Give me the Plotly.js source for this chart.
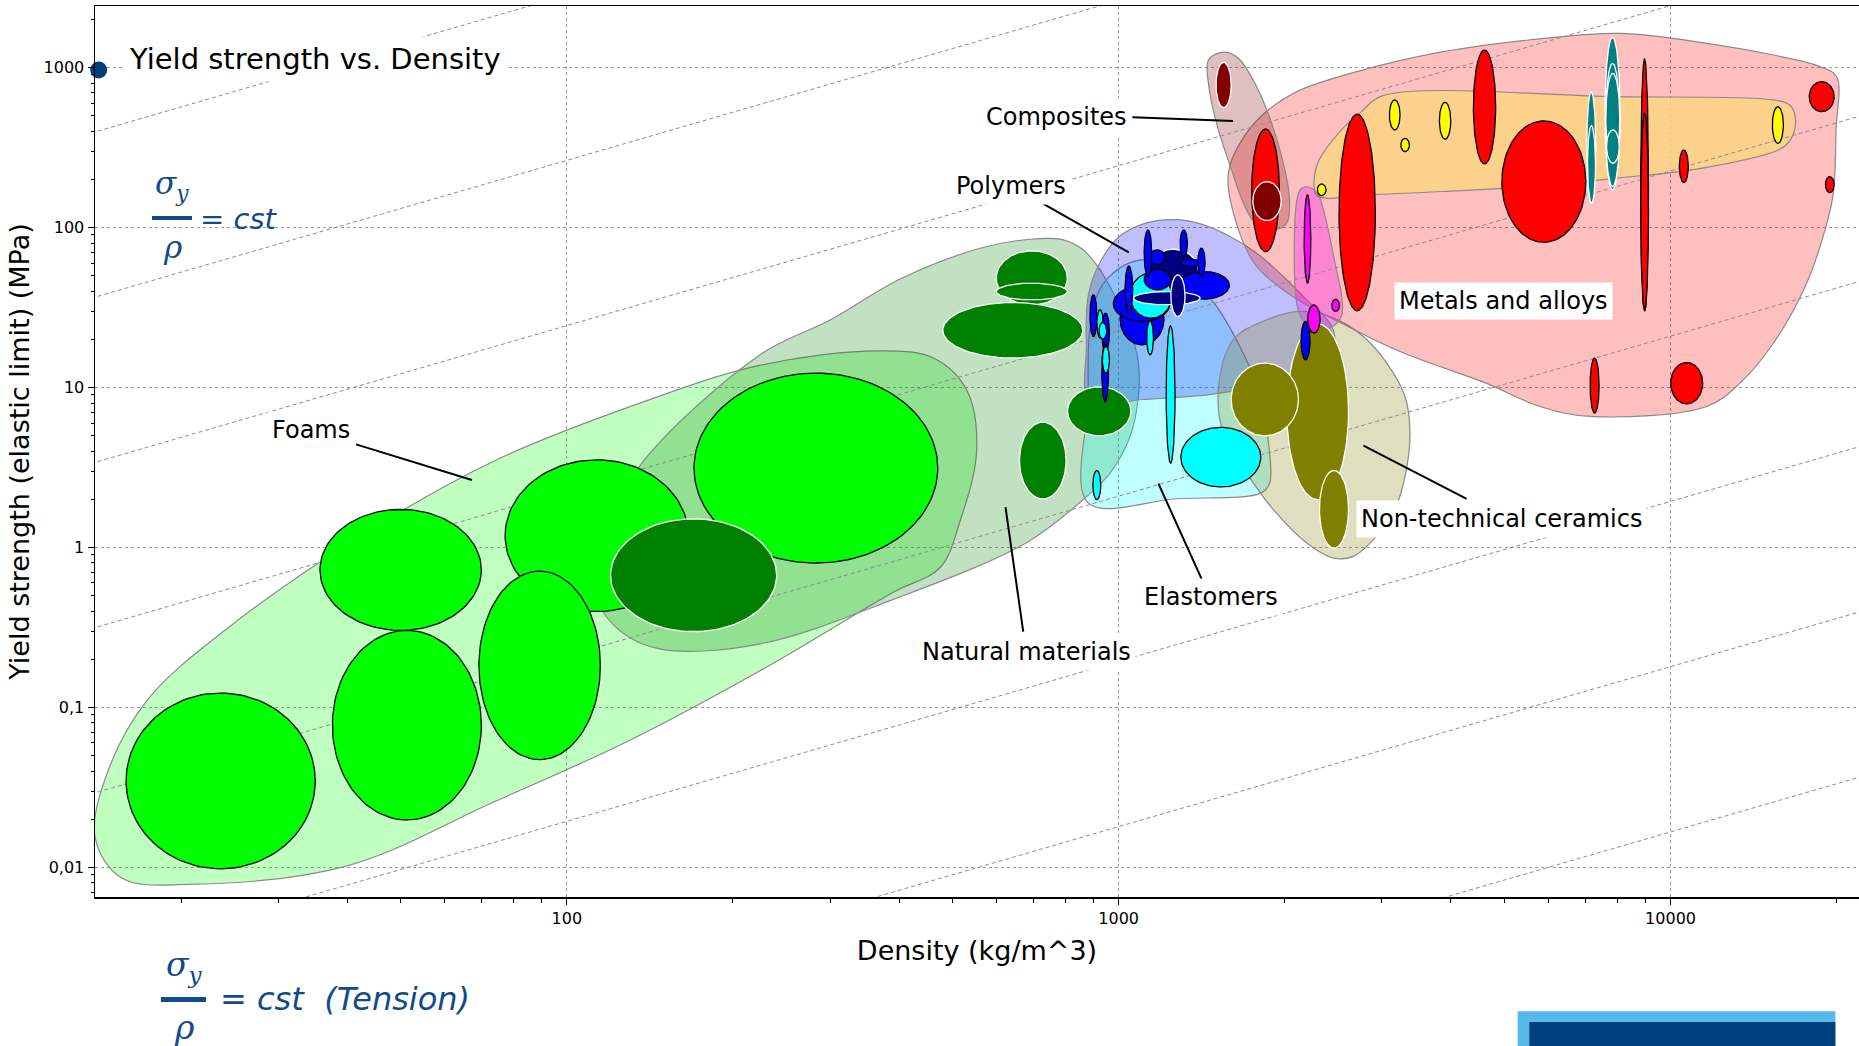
<!DOCTYPE html>
<html><head><meta charset="utf-8">
<script src="https://cdn.plot.ly/plotly-3.0.1.min.js"></script>
<style>html,body{margin:0;padding:0;background:#fff;}#chart{width:1859px;height:1046px;}</style>
</head><body><div id="chart"></div>
<script>
// ---------------- DATA (density kg/m^3 ranges, yield strength MPa ranges) ----------------
const foamRho = [[15.9,35.0],[35.7,70.0],[37.6,70.0],[77.3,166],[69.3,115],[170,470]];
const foamSig = [[0.0098,0.123],[0.303,1.73],[0.0198,0.303],[0.398,3.53],[0.0472,0.711],[0.80,12.3]];

const naturalRho = [[120,240],[600,807],[600,807],[480,861],[661,803],[808,1052]];
const naturalSig = [[0.298,1.51],[32.8,71.5],[35.3,44.9],[15.3,34.0],[2.01,6.08],[5.0,10.1]];

const ceramicRho = [[2017,2609],[1599,2117],[2311,2609]];
const ceramicSig = [[1.99,25.0],[4.99,14.2],[0.99,3.03]];

// polymers (P = blue, PD = dark blue) and elastomers (E = cyan), in drawing order
const polyKind = ['PD','P','P','P','E','P','PD','PD','P','P','P','P','P','P','E','P','E','P','E','P','E','E','E','E','P'];
const polyRho = [[1132,1395],[1006,1208],[978,1239],[1283,1587],[1049,1248],[1112,1243],[1063,1405],[1243,1319],
  [1137,1213],[1112,1148],[1292,1332],[1292,1408],[1391,1434],[1027,1060],[1124,1156],[887,913],[913,938],
  [932,962],[921,951],[932,958],[934,962],[1219,1265],[898,928],[1296,1809],[2140,2222]];
const polySig = [[38.9,73.2],[18.5,38.9],[25.9,43.2],[35.7,53.1],[27.1,51.9],[40.8,54.9],[32.9,39.8],[27.8,50.6],
  [58.5,72.5],[49.4,96.7],[65.9,96.7],[57.1,63.4],[49.4,74.3],[29.2,57.6],[16.0,26.2],[20.8,38.0],[20.4,30.6],
  [16.8,29.2],[20.1,25.5],[8.15,18.9],[12.3,18.1],[3.37,24.3],[1.99,3.03],[2.39,5.63],[14.9,25.9]];

const glassRho = [[2201,2317],[2168,2229],[2433,2512]];
const glassSig = [[21.9,32.8],[44.9,160],[29.9,35.6]];

const metalRho = [[1742,1955],[2508,2918],[4393,4821],[4947,7021],[8831,9120],[8831,9120],[10373,10770],
  [17836,19789],[19081,19789],[7149,7423],[10005,11435]];
const metalSig = [[70.7,413],[30.2,511],[250,1287],[80.9,464],[30.2,1130],[30.2,518],[190.9,305.7],
  [530,817],[165.4,208.2],[6.92,15.27],[7.9,14.33]];

const compositeRho = [[1501,1599],[1750,1970]];
const compositeSig = [[562,1078],[110.6,193.8]];

const tealRho = [[7050,7320],[7072,7311],[7606,8101],[7622,8090],[7632,8090],[7657,8073]];
const tealSig = [[141.9,707.5],[141.9,433.5],[171.7,1545],[180.1,1063],[252.5,921],[252.5,407.7]];

const techCeramicRho = [[3094,3235],[3245,3363],[3812,3997],[2291,2375],[15292,16014]];
const techCeramicSig = [[407.7,628],[298.5,361.3],[356.4,606.7],[158.5,187.3],[336.3,569.6]];

// envelopes (outline vertices)
const foamEnvRho = [15.61,13.97,14.77,17.44,24.34,42.41,73.87,128.7,224.3,369.6,461.6,530.3,552.9,515.8,474.8,390.6,224.3,128.7,73.87,40.1,21.19];
const foamEnvSig = [0.00858,0.01542,0.04074,0.1132,0.3148,1.189,3.475,7.482,13.8,16.94,15.29,9.647,4.05,1.458,0.7495,0.5248,0.1703,0.06129,0.02573,0.01026,0.00786];
const naturalEnvRho = [224.3,299.9,403.5,560.9,690.7,793.6,863.0,925.3,984.7,1048.6,1085.7,1085.7,1048.6,964.5,875.0,680.6,390.6,224.3,147.9,125.2,113.6,115.2,136.1];
const naturalEnvSig = [16.09,26.44,48.03,74.21,84.49,83.75,72.44,54.4,37.06,22.95,14.19,8.785,4.944,2.918,2.086,1.072,0.4738,0.2499,0.2314,0.2989,0.4738,1.129,3.3];
const elastomerEnvRho = [880.3,880.3,886.4,923.8,1004.4,1106.6,1237.1,1363.6,1503.1,1656.9,1800.6,1865.3,1878.2,1813.9,1272.3];
const elastomerEnvSig = [1.902,8.418,23.02,40.93,55.9,63.0,60.05,47.29,32.23,18.11,9.262,4.729,2.537,2.195,2.016];
const polymerEnvRho = [886.4,873.8,880.3,923.8,1004.4,1122.9,1272.3,1422.3,1588.9,1775.9,1984.9,2188.5,2412.6,2463.1,2346.8,2098.9,1800.6,1462.2,1106.6];
const polymerEnvSig = [8.013,18.11,37.19,60.05,88.14,106.9,112.1,104.4,88.14,69.41,49.6,35.44,25.33,19.95,14.95,11.76,10.19,9.04,8.418];
const ceramicEnvRho = [1515.8,1613.2,1854.3,2131.6,2449.5,2775.8,3060.3,3302.4,3371.6,3302.4,3146.0,2893.2,2661.3,2449.5,2191.5,1907.0,1706.0,1547.5];
const ceramicEnvSig = [9.68,19.89,26.49,29.9,27.13,20.86,14.21,8.799,5.185,2.783,1.643,1.119,0.88,0.859,1.067,1.723,2.918,5.185];
const metalEnvRho = [1578.8,1665.4,1822.6,2103.3,2702.6,3870.4,5540.1,8101.7,11629,15356,18659,19999,19949,19721,19050,17644,15356,13356,11629,7147.6,5801.1,4629.5,3234.6,2516.4,2064,1779.6,1652];
const metalEnvSig = [213.3,344.4,505.5,707.5,943.6,1256.9,1487.7,1637.6,1418.7,1198.1,1013.7,877.0,407.7,163.7,96.65,44.86,18.92,10.65,7.612,6.596,7.612,10.65,16.8,25.55,37.19,56.96,95.0];
const techCeramicEnvRho = [2259.4,2300.6,2516.4,2752.3,3010.6,7931.7,15959,16553,16849,16405,15677,11350,7931.7,5540.1,3870.4,2702.6,2384.5,2280.1];
const techCeramicEnvSig = [193.8,258.6,398.1,530.3,667.3,658.3,613.1,569.6,448.6,344.4,305.7,234.6,203.3,180.4,168.0,158.5,152.4,159.8];
const glassEnvRho = [2117,2161.5,2237.4,2300.6,2382.3,2466.5,2536.2,2532.2,2412.6,2218.8,2121.9];
const glassEnvSig = [163.7,178.6,176.2,159.8,106.3,59.84,37.06,27.87,23.59,24.15,29.29];
const compositeEnvRho = [1526.3,1454.1,1459.8,1515.8,1602.1,1682.7,1778.3,1907.0,2015.3,2038.2,1987.7,1893.8,1778.3,1659.6,1580.2];
const compositeEnvSig = [1239.7,1115.3,724.4,407.7,229.1,141.9,103.8,96.65,106.3,156.1,252.1,448.6,759.8,1115.3,1239.7];

// guide lines sigma/rho = C  (MPa per kg/m^3)
const guideC = [1.667e-6,1.799e-5,1.941e-4,2.094e-3,2.259e-2,0.2438,2.630,28.38];

// labels and leader lines
const labelText = ['Foams','Natural materials','Polymers','Composites','Elastomers','Non-technical ceramics','Metals and alloys'];
const labelRho = [34.4,681.5,639.2,771.6,1467,4930,4979];
const labelSig = [5.41,0.223,181.7,488.6,0.489,1.506,34.7];
const leaderRho = [[41.5,67.3],[623.6,671.5],[730.5,1043],[1058.6,1612],[1180.4,1417.9],[2777,4271]];
const leaderSig = [[4.41,2.64],[1.786,0.298],[140.6,69.9],[488.6,464.2],[2.51,0.62],[4.335,2.012]];

const titleMarkerRho = [14.18];
const titleMarkerSig = [966];

const xTickVals = [100,1000,10000];
const xTickText = ['100','1000','10000'];
const yTickVals = [0.01,0.1,1,10,100,1000];
const yTickText = ['0,01','0,1','1','10','100','1000'];

// ---------------- BUILD ----------------
const traces = [];
function envelope(rho, sig, fill){
  traces.push({type:'scatter',mode:'lines',x:rho.concat([rho[0]]),y:sig.concat([sig[0]]),
    fill:'toself',fillcolor:fill,line:{shape:'spline',smoothing:1,color:'#8a8a8a',width:1.2},
    hoverinfo:'skip',showlegend:false});
}
function bubble(rho, sig, fill, edge){
  const lx0=Math.log10(rho[0]),lx1=Math.log10(rho[1]),ly0=Math.log10(sig[0]),ly1=Math.log10(sig[1]);
  const cx=(lx0+lx1)/2,cy=(ly0+ly1)/2,rx=(lx1-lx0)/2,ry=(ly1-ly0)/2;
  const xs=[],ys=[];
  for(let i=0;i<=120;i++){const t=2*Math.PI*i/120;xs.push(Math.pow(10,cx+rx*Math.cos(t)));ys.push(Math.pow(10,cy+ry*Math.sin(t)));}
  traces.push({type:'scatter',mode:'lines',x:xs,y:ys,fill:'toself',fillcolor:fill,
    line:{color:edge,width:1.3},hoverinfo:'skip',showlegend:false});
}

envelope(foamEnvRho,foamEnvSig,'rgba(0,255,0,0.25)');
envelope(naturalEnvRho,naturalEnvSig,'rgba(0,128,0,0.24)');
envelope(elastomerEnvRho,elastomerEnvSig,'rgba(0,255,255,0.25)');
envelope(polymerEnvRho,polymerEnvSig,'rgba(0,0,255,0.25)');
envelope(ceramicEnvRho,ceramicEnvSig,'rgba(128,128,0,0.25)');
envelope(metalEnvRho,metalEnvSig,'rgba(255,0,0,0.25)');
envelope(techCeramicEnvRho,techCeramicEnvSig,'rgba(250,212,130,0.85)');
envelope(glassEnvRho,glassEnvSig,'rgba(255,0,255,0.3)');
envelope(compositeEnvRho,compositeEnvSig,'rgba(128,0,0,0.25)');

guideC.forEach(c=>{
  traces.push({type:'scatter',mode:'lines',x:[5,60000],y:[5*c,60000*c],
    line:{color:'#8c8c8c',width:1,dash:'4px,3px'},hoverinfo:'skip',showlegend:false});
});

foamRho.forEach((r,i)=>bubble(r,foamSig[i],'#00FF00','#000000'));
naturalRho.forEach((r,i)=>bubble(r,naturalSig[i],'#008000','#FFFFFF'));
ceramicRho.forEach((r,i)=>bubble(r,ceramicSig[i],'#808000','#FFFFFF'));
const polyStyle={P:['#0000FF','#000000'],PD:['#000080','#FFFFFF'],E:['#00FFFF','#000000']};
polyRho.forEach((r,i)=>{const s=polyStyle[polyKind[i]];bubble(r,polySig[i],s[0],s[1]);});
glassRho.forEach((r,i)=>bubble(r,glassSig[i],'#FF00FF','#000000'));
metalRho.forEach((r,i)=>bubble(r,metalSig[i],'#FF0000','#000000'));
compositeRho.forEach((r,i)=>bubble(r,compositeSig[i],'#800000','#FFFFFF'));
tealRho.forEach((r,i)=>bubble(r,tealSig[i],'#008080','#FFFFFF'));
techCeramicRho.forEach((r,i)=>bubble(r,techCeramicSig[i],'#FFFF00','#000000'));

leaderRho.forEach((r,i)=>{
  traces.push({type:'scatter',mode:'lines',x:r,y:leaderSig[i],line:{color:'#000',width:2},hoverinfo:'skip',showlegend:false});
});

traces.push({type:'scatter',mode:'markers',x:titleMarkerRho,y:titleMarkerSig,cliponaxis:false,
  marker:{size:17,color:'#003F7D'},hoverinfo:'skip',showlegend:false});

const annotations = labelText.map((t,i)=>({x:Math.log10(labelRho[i]),y:Math.log10(labelSig[i]),xref:'x',yref:'y',
  xanchor:'center',yanchor:'middle',
  text:t,showarrow:false,font:{family:'DejaVu Sans',size:24,color:'#000'},bgcolor:'#FFFFFF',borderpad:4}));

const blue='#114A8B';
function formulaText(x,y,text,family,size,xanchor){
  return {xref:'paper',yref:'paper',x:x,y:y,xanchor:xanchor,yanchor:'middle',showarrow:false,text:text,
    font:{family:family,size:size,color:blue}};
}
annotations.push(
  {xref:'paper',yref:'paper',x:0.0159,y:0.9405,xanchor:'left',yanchor:'middle',showarrow:false,
   text:'Yield strength vs. Density',font:{family:'DejaVu Sans',size:29,color:'#000'},bgcolor:'#FFFFFF',borderpad:5},
  formulaText(0.0437,0.7980,'<i>σ<sub>y</sub></i>','DejaVu Serif',31,'center'),
  formulaText(0.0437,0.7300,'<i>ρ</i>','DejaVu Serif',31,'center'),
  formulaText(0.0584,0.7609,'= <i>cst</i>','DejaVu Sans',29,'left'),
  formulaText(0.0505,-0.0780,'<i>σ<sub>y</sub></i>','DejaVu Serif',33,'center'),
  formulaText(0.0505,-0.1470,'<i>ρ</i>','DejaVu Serif',33,'center'),
  formulaText(0.0697,-0.1150,'= <i>cst &nbsp;(Tension)</i>','DejaVu Sans',32,'left')
);

const shapes = [
  {type:'line',xref:'paper',yref:'paper',x0:0.0323,x1:0.0550,y0:0.7621,y1:0.7621,line:{color:blue,width:4}},
  {type:'line',xref:'paper',yref:'paper',x0:0.0374,x1:0.0629,y0:-0.1150,y1:-0.1150,line:{color:blue,width:5}},
  {type:'rect',xref:'paper',yref:'paper',x0:0.8065,x1:0.9866,y0:-0.1672,y1:-0.1283,fillcolor:'#56B9E9',line:{width:0}},
  {type:'rect',xref:'paper',yref:'paper',x0:0.8131,x1:0.9866,y0:-0.1672,y1:-0.1403,fillcolor:'#003F7D',line:{width:0}}
];

const xMinor=[],yMinor=[];
[1,2,3,4].forEach(k=>{for(let m=2;m<=9;m++)xMinor.push(m*Math.pow(10,k));});
[-3,-2,-1,0,1,2,3].forEach(k=>{for(let m=2;m<=9;m++)yMinor.push(+(m*Math.pow(10,k)).toPrecision(3));});

const layout = {
  width:1859,height:1046,margin:{l:95,r:0,t:6,b:149},
  paper_bgcolor:'#FFFFFF',plot_bgcolor:'#FFFFFF',showlegend:false,
  font:{family:'DejaVu Sans',color:'#000'},
  xaxis:{type:'log',range:[1.145,4.3415],tickvals:xTickVals,ticktext:xTickText,
    showgrid:true,gridcolor:'#9a9a9a',griddash:'dot',gridwidth:1,zeroline:false,
    showline:true,linecolor:'#000',linewidth:1.5,mirror:true,ticks:'outside',ticklen:6,tickcolor:'#000',
    tickfont:{size:16,color:'#000'},
    minor:{tickvals:xMinor,ticks:'outside',ticklen:4,tickcolor:'#000',showgrid:false},
    title:{text:'Density (kg/m^3)',font:{size:27,color:'#000'},standoff:14}},
  yaxis:{type:'log',range:[-2.185,3.385],tickvals:yTickVals,ticktext:yTickText,
    showgrid:true,gridcolor:'#9a9a9a',griddash:'dot',gridwidth:1,zeroline:false,
    showline:true,linecolor:'#000',linewidth:1.5,mirror:true,ticks:'outside',ticklen:6,tickcolor:'#000',
    tickfont:{size:16,color:'#000'},
    minor:{tickvals:yMinor,ticks:'outside',ticklen:3,tickcolor:'#000',showgrid:false},
    title:{text:'Yield strength (elastic limit) (MPa)',font:{size:27,color:'#000'},standoff:6}},
  annotations:annotations,shapes:shapes
};

Plotly.newPlot('chart',traces,layout,{displayModeBar:false,staticPlot:true});
</script></body></html>
